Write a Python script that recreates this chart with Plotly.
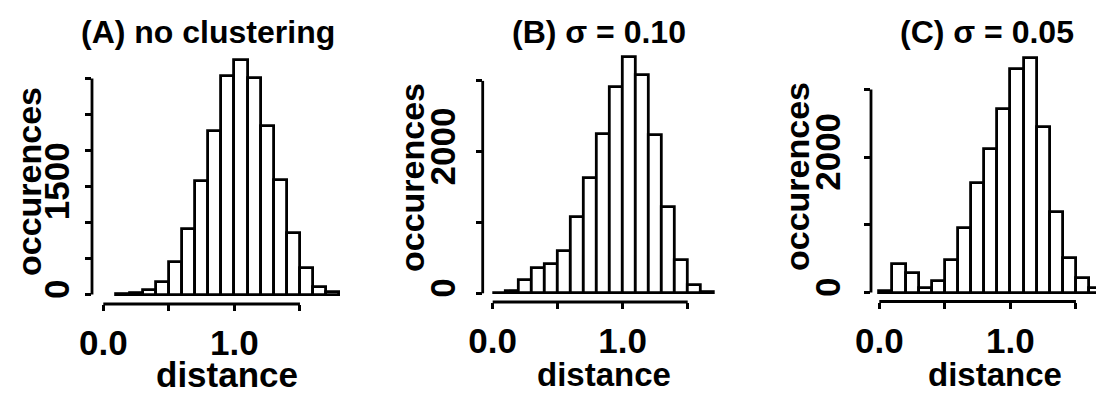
import plotly.graph_objects as go

# Histogram bins (left edges, width 0.1) and counts for the three runs
bin_width = 0.1
edges_a = [0.1, 0.2, 0.3, 0.4, 0.5, 0.6, 0.7, 0.8, 0.9, 1.0, 1.1, 1.2, 1.3, 1.4, 1.5, 1.6, 1.7]
counts_a = [10, 15, 65, 180, 455, 910, 1570, 2270, 3030, 3260, 3010, 2340, 1590, 855, 375, 100, 40]

edges_b = [0.0, 0.1, 0.2, 0.3, 0.4, 0.5, 0.6, 0.7, 0.8, 0.9, 1.0, 1.1, 1.2, 1.3, 1.4, 1.5, 1.6]
counts_b = [10, 35, 193, 360, 420, 600, 1075, 1627, 2250, 2915, 3335, 3090, 2240, 1226, 470, 115, 15]

edges_c = [0.0, 0.1, 0.2, 0.3, 0.4, 0.5, 0.6, 0.7, 0.8, 0.9, 1.0, 1.1, 1.2, 1.3, 1.4, 1.5, 1.6]
counts_c = [20, 416, 283, 60, 170, 480, 946, 1611, 2113, 2704, 3300, 3468, 2448, 1192, 505, 210, 70]

titles = ["(A) no clustering", "(B) σ = 0.10", "(C) σ = 0.05"]

x_tickvals = [0.0, 0.5, 1.0, 1.5]
x_ticktext = ["0.0", "", "1.0", ""]
y_tickvals_a = [0, 500, 1000, 1500, 2000, 2500, 3000]
y_ticktext_a = ["0", "", "", "1500", "", "", ""]
y_tickvals_bc = [0, 1000, 2000, 3000]
y_ticktext_bc = ["0", "", "2000", ""]

W, H = 1096, 395
FONT = "Liberation Sans"


def px_x(p):
    return p / W


def px_y(p):
    return 1 - p / H


def panel_geometry(left, right, bottom, top, x0, x_scale, y0, y_scale):
    """Domains and data ranges for a panel given its pixel box and scale."""
    return dict(
        xdomain=[px_x(left), px_x(right)],
        ydomain=[px_y(bottom), px_y(top)],
        xrange=[(left - x0) / x_scale, (right - x0) / x_scale],
        yrange=[(y0 - bottom) / y_scale, (y0 - top) / y_scale],
    )


panels = [
    dict(edges=edges_a, counts=counts_a, yt=(y_tickvals_a, y_ticktext_a),
         geo=panel_geometry(92, 345, 304, 45, 103.3, 131.1, 294.5, 0.0720),
         title_xy=(208, 32), ylab_xy=(29, 182), xlab_xy=(227, 374),
         ystand=2, xlab_size=35),
    dict(edges=edges_b, counts=counts_b, yt=(y_tickvals_bc, y_ticktext_bc),
         geo=panel_geometry(482.7, 720, 302, 45, 492.7, 130.0, 293.3, 0.0708),
         title_xy=(599, 32), ylab_xy=(412, 178), xlab_xy=(604, 374),
         ystand=7, xlab_size=33),
    dict(edges=edges_c, counts=counts_c, yt=(y_tickvals_bc, y_ticktext_bc),
         geo=panel_geometry(871, 1096, 301.5, 45, 879.3, 131.1, 292.5, 0.0677),
         title_xy=(987, 32), ylab_xy=(797, 177), xlab_xy=(995, 374),
         ystand=10, xlab_size=33),
]

fig = go.Figure()
layout = dict(
    width=W, height=H,
    margin=dict(l=0, r=0, t=0, b=0, autoexpand=False),
    paper_bgcolor="white", plot_bgcolor="white",
    showlegend=False,
    font=dict(family=FONT, color="black", size=33, weight="bold"),
    bargap=0,
)
shapes = []
annotations = []

for i, p in enumerate(panels, start=1):
    xa = "x" if i == 1 else f"x{i}"
    ya = "y" if i == 1 else f"y{i}"
    centers = [e + bin_width / 2 for e in p["edges"]]
    fig.add_trace(go.Bar(
        x=centers, y=p["counts"], width=bin_width,
        marker=dict(color="white", line=dict(color="black", width=2.8)),
        xaxis=xa, yaxis=ya,
    ))
    g = p["geo"]
    layout["xaxis" if i == 1 else f"xaxis{i}"] = dict(
        domain=g["xdomain"], range=g["xrange"], anchor=ya,
        showgrid=False, zeroline=False, showline=False,
        ticks="outside", ticklen=6, tickwidth=2.6, tickcolor="black",
        tickvals=x_tickvals, ticktext=x_ticktext,
        tickfont=dict(family=FONT, size=35, color="black", weight="bold"),
        ticklabelstandoff=2, automargin=False,
    )
    layout["yaxis" if i == 1 else f"yaxis{i}"] = dict(
        domain=g["ydomain"], range=g["yrange"], anchor=xa,
        showgrid=False, zeroline=False, showline=False,
        ticks="outside", ticklen=6, tickwidth=2.6, tickcolor="black",
        tickvals=p["yt"][0], ticktext=p["yt"][1], tickangle=-90,
        tickfont=dict(family=FONT, size=35, color="black", weight="bold"),
        ticklabelstandoff=p["ystand"], automargin=False,
    )
    # R-style axis lines that only span the labelled tick range
    shapes.append(dict(type="line", xref=xa, yref=f"{ya} domain",
                       x0=x_tickvals[0], x1=x_tickvals[-1], y0=0, y1=0,
                       line=dict(color="black", width=2.8)))
    shapes.append(dict(type="line", xref=f"{xa} domain", yref=ya,
                       x0=0, x1=0, y0=p["yt"][0][0], y1=p["yt"][0][-1],
                       line=dict(color="black", width=2.8)))
    tx, ty = p["title_xy"]
    annotations.append(dict(text=titles[i - 1], xref="paper", yref="paper",
                            x=px_x(tx), y=px_y(ty), showarrow=False,
                            xanchor="center", yanchor="middle",
                            font=dict(family=FONT, size=32, color="black", weight="bold")))
    lx, ly = p["ylab_xy"]
    annotations.append(dict(text="occurences", xref="paper", yref="paper",
                            x=px_x(lx), y=px_y(ly), showarrow=False, textangle=-90,
                            xanchor="center", yanchor="middle",
                            font=dict(family=FONT, size=34, color="black", weight="bold")))
    dx, dy = p["xlab_xy"]
    annotations.append(dict(text="distance", xref="paper", yref="paper",
                            x=px_x(dx), y=px_y(dy), showarrow=False,
                            xanchor="center", yanchor="middle",
                            font=dict(family=FONT, size=p["xlab_size"], color="black", weight="bold")))

layout["shapes"] = shapes
layout["annotations"] = annotations
fig.update_layout(**layout)
fig.write_html("out.html")
